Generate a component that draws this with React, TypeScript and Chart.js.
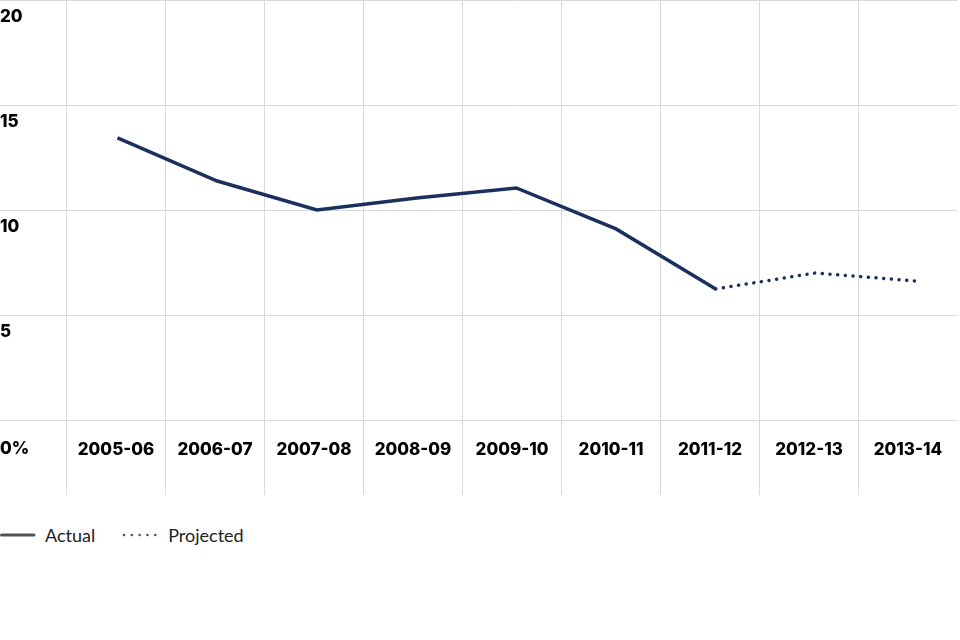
import React, { useEffect, useRef } from "react";
import { Chart, registerables } from "chart.js";

Chart.register(...registerables);

const categories = ["2005-06", "2006-07", "2007-08", "2008-09", "2009-10", "2010-11", "2011-12", "2012-13", "2013-14"];
const actualValues = [13.43, 11.38, 10.0, 10.57, 11.05, 9.1, 6.24, null, null];
const projectedValues = [null, null, null, null, null, null, 6.24, 7.0, 6.62];
const yTickLabels = ["0%", "5", "10", "15", "20"];
const seriesNames = ["Actual", "Projected"];

const NAVY = "#1b305c";
const GRID = "#d9d9d9";
const TICK_FONT = { family: "Inter, 'Liberation Sans', sans-serif", size: 17, weight: "800" as any };

const toPoints = (vals: (number | null)[]) => vals.map((v, i) => ({ x: i, y: v }));

export default function App() {
  const canvasRef = useRef<HTMLCanvasElement | null>(null);

  useEffect(() => {
    document.body.style.margin = "0";
    const canvas = canvasRef.current;
    if (!canvas) return;
    const chart = new Chart(canvas, {
      type: "line",
      data: {
        labels: categories,
        datasets: [
          {
            label: seriesNames[0],
            data: toPoints(actualValues) as any,
            xAxisID: "xLine",
            borderColor: NAVY,
            borderWidth: 3.5,
            pointRadius: 0,
            tension: 0,
            spanGaps: false,
          },
          {
            label: seriesNames[1],
            data: toPoints(projectedValues) as any,
            xAxisID: "xLine",
            borderColor: NAVY,
            borderWidth: 3.5,
            borderDash: [0.1, 7.6],
            borderCapStyle: "round",
            pointRadius: 0,
            tension: 0,
            spanGaps: false,
          },
        ],
      },
      options: {
        animation: false,
        responsive: true,
        maintainAspectRatio: false,
        layout: { padding: { left: 0, right: 2.5, top: 0, bottom: 0 } },
        plugins: { legend: { display: false }, tooltip: { enabled: false } },
        scales: {
          x: {
            type: "category",
            offset: true,
            afterFit: (s: any) => {
              s.height = 80;
              s.paddingLeft = 0;
              s.paddingRight = 0;
            },
            border: { display: false },
            grid: {
              offset: true,
              color: (c: any) => (c.type === "tick" ? GRID : "transparent"),
              tickLength: 75,
            },
            ticks: {
              padding: -55,
              font: TICK_FONT,
              color: "#000",
              maxRotation: 0,
              autoSkip: false,
            },
          },
          xLine: {
            type: "linear",
            position: "bottom",
            display: false,
            min: -0.5115,
            max: 8.425,
          },
          y: {
            min: 0,
            max: 20,
            afterFit: (s: any) => {
              s.width = 66.5;
              s.paddingTop = 0;
              s.paddingBottom = 0;
            },
            border: { display: false },
            grid: { color: GRID, tickLength: 66.5 },
            ticks: {
              stepSize: 5,
              crossAlign: "far",
              labelOffset: 17,
              padding: 0,
              color: "#000",
              font: { ...TICK_FONT, lineHeight: 24 / 17 },
              callback: (_v: any, i: number) => (i === 0 ? ["", yTickLabels[0]] : yTickLabels[i]),
            },
          },
        },
      },
    });
    return () => chart.destroy();
  }, []);

  return (
    <div style={{ position: "absolute", left: 0, top: 0, width: 960, height: 640, background: "#fff" }}>
      <div style={{ position: "absolute", left: 0, top: 0, width: 960, height: 500 }}>
        <canvas ref={canvasRef} />
      </div>
      <div
        style={{
          position: "absolute",
          left: 0,
          top: 523,
          height: 24,
          display: "flex",
          alignItems: "center",
          fontFamily: "Lato, sans-serif",
          fontSize: 18,
          color: "#222",
        }}
      >
        <svg width={36} height={6} style={{ display: "block" }}>
          <line x1={1.5} y1={3} x2={34} y2={3} stroke="#555" strokeWidth={3} strokeLinecap="round" />
        </svg>
        <span style={{ marginLeft: 9 }}>{seriesNames[0]}</span>
        <svg width={40} height={6} style={{ display: "block", marginLeft: 27 }}>
          <line x1={2} y1={3} x2={36} y2={3} stroke="#555" strokeWidth={2.5} strokeLinecap="round" strokeDasharray="0.1 7.7" />
        </svg>
        <span style={{ marginLeft: 6 }}>{seriesNames[1]}</span>
      </div>
    </div>
  );
}
